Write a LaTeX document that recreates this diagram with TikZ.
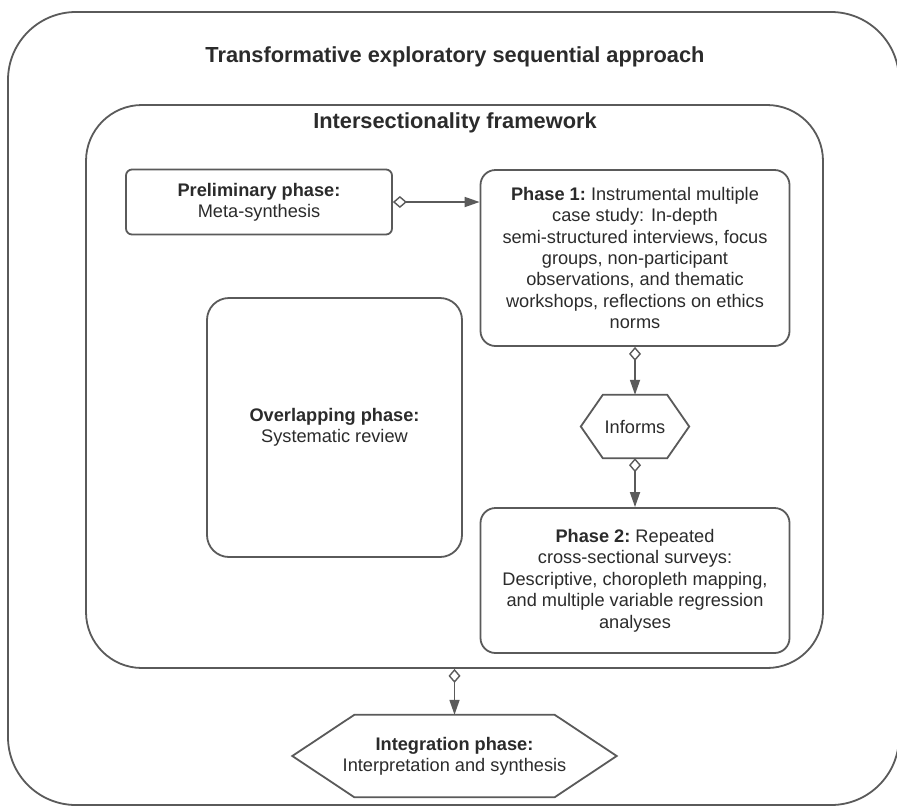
\documentclass[tikz,border=0pt]{standalone}
\usepackage{fontspec}
\setmainfont{Liberation Sans}
\usetikzlibrary{arrows.meta}
\definecolor{lc}{HTML}{5A5A5A}
\definecolor{tc}{HTML}{2B2B2B}
\tikzset{
  box/.style={draw=lc, line width=1.8pt, rectangle, inner sep=0pt, align=center, text=tc,
    font=\fontsize{18.2}{21.4}\selectfont},
  hexbox/.style={rectangle, inner sep=0pt, align=center, text=tc, font=\fontsize{18.2}{21.4}\selectfont},
  titletext/.style={text=tc, font=\fontsize{21.8}{25}\selectfont\bfseries, inner sep=0pt},
  hexline/.style={draw=lc, line width=1.8pt, line join=miter},
  conn/.style={draw=lc, line width=1.7pt,
    {Diamond[open, length=14pt, width=12pt, line width=1.4pt, fill=white]}-{Triangle[length=15pt, width=10pt]}}
}
\begin{document}
\begin{tikzpicture}[x=1pt, y=-1pt]
\useasboundingbox (0,0) rectangle (897,807);
\fill[white] (0,0) rectangle (897,807);

\node[box, rounded corners=68pt, minimum width=891pt, minimum height=793pt] (outer) at (453.5,408.5) {};
\node[titletext] (ttl) at (455,57) {Transformative exploratory sequential approach};

\node[box, rounded corners=56pt, minimum width=737pt, minimum height=563pt] (inner) at (454.5,386.5) {};
\node[titletext] (ittl) at (455,123) {Intersectionality framework};

\node[box, rounded corners=6pt, minimum width=266pt, minimum height=65pt] (prelim) at (259,202)
  {\textbf{Preliminary phase:}\\Meta-synthesis};

\node[box, rounded corners=15pt, minimum width=309pt, minimum height=176pt] (ph1) at (635,258)
  {\textbf{Phase 1:}\ Instrumental multiple\\case study: In-depth\\semi-structured interviews, focus\\groups, non-participant\\observations, and thematic\\workshops, reflections on ethics\\norms};

\node[hexbox, minimum width=108pt, minimum height=63pt] (inf) at (635,426.5) {Informs};
\path[hexline] (inf.west) -- ([xshift=22pt]inf.north west) -- ([xshift=-22pt]inf.north east)
  -- (inf.east) -- ([xshift=-22pt]inf.south east) -- ([xshift=22pt]inf.south west) -- cycle;

\node[box, rounded corners=15pt, minimum width=309pt, minimum height=145pt] (ph2) at (635,580.5)
  {\textbf{Phase 2:}\ Repeated\\cross-sectional surveys:\\Descriptive, choropleth mapping,\\and multiple variable regression\\analyses};

\node[box, rounded corners=22pt, minimum width=255pt, minimum height=259pt] (ovl) at (334.5,427.5)
  {\textbf{Overlapping phase:}\\Systematic review};

\node[hexbox, minimum width=324pt, minimum height=82pt] (integ) at (454.5,756)
  {\textbf{Integration phase:}\\Interpretation and synthesis};
\path[hexline] (integ.west) -- ([xshift=62pt]integ.north west) -- ([xshift=-62pt]integ.north east)
  -- (integ.east) -- ([xshift=-62pt]integ.south east) -- ([xshift=62pt]integ.south west) -- cycle;

\draw[conn] (prelim.east) -- (prelim.east -| ph1.west);
\draw[conn] (ph1.south) -- (inf.north);
\draw[conn] (inf.south) -- (ph2.north);
\draw[conn] (inner.south) -- (integ.north);
\end{tikzpicture}
\end{document}
